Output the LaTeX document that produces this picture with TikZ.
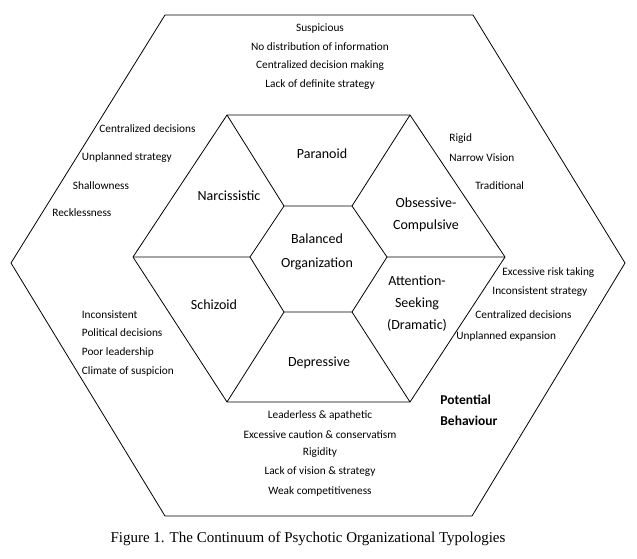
\documentclass[tikz,border=0pt]{standalone}
\usepackage{fontspec}
\setmainfont{Carlito}
\newfontfamily\capfont{Liberation Serif}
\begin{document}
\begin{tikzpicture}[x=1pt,y=-1pt,line width=0.8pt,
  sm/.style={font=\fontsize{11.3}{13}\selectfont,inner sep=0pt},
  smL/.style={sm,anchor=west},
  big/.style={font=\fontsize{14}{17}\selectfont,inner sep=0pt,align=center}]
\useasboundingbox (0,0) rectangle (637,558);
% outer
\coordinate (o1) at (165,15); \coordinate (o2) at (473,15); \coordinate (o3) at (625,263);
\coordinate (o4) at (472,516); \coordinate (o5) at (165,516); \coordinate (o6) at (11,263);
\draw (o1)--(o2)--(o3)--(o4)--(o5)--(o6)--cycle;
% inner
\coordinate (i1) at (227,115); \coordinate (i2) at (410,115); \coordinate (i3) at (505,257);
\coordinate (i4) at (410,402); \coordinate (i5) at (227,402); \coordinate (i6) at (133,257);
\draw (i1)--(i2)--(i3)--(i4)--(i5)--(i6)--cycle;
% center
\coordinate (c1) at (284,206); \coordinate (c2) at (352,206); \coordinate (c3) at (387,257);
\coordinate (c4) at (352,312); \coordinate (c5) at (284,312); \coordinate (c6) at (250,257);
\draw (c1)--(c2)--(c3)--(c4)--(c5)--(c6)--cycle;
\draw (i1)--(c1) (i2)--(c2) (i3)--(c3) (i4)--(c4) (i5)--(c5) (i6)--(c6);
% labels
\node[big] (par) at (322,154) {Paranoid};
\node[big] (nar) at (229,196) {Narcissistic};
\node[big] (bal) at (317,252) {Balanced\\[7pt]Organization};
\node[big] (obs) at (426,215) {Obsessive-\\[5pt]Compulsive};
\node[big] (att) at (417,304) {Attention-\\[5pt]Seeking\\[5pt](Dramatic)};
\node[big] (sch) at (214,305) {Schizoid};
\node[big] (dep) at (319,363) {Depressive};
% top
\node[sm] (t1) at (320,29) {Suspicious};
\node[sm] (t2) at (320,47) {No distribution of information};
\node[sm] (t3) at (320,66) {Centralized decision making};
\node[sm] (t4) at (320,84.5) {Lack of definite strategy};
% upper left
\node[smL] (l1) at (99,129) {Centralized decisions};
\node[smL] (l2) at (81.5,158) {Unplanned strategy};
\node[smL] (l3) at (72.5,186) {Shallowness};
\node[smL] (l4) at (52,213) {Recklessness};
% upper right
\node[smL] (r1) at (449,139) {Rigid};
\node[smL] (r2) at (449,158) {Narrow Vision};
\node[smL] (r3) at (475,186) {Traditional};
% lower right
\node[smL] (r4) at (502,273) {Excessive risk taking};
\node[smL] (r5) at (492,291.5) {Inconsistent strategy};
\node[smL] (r6) at (475,315) {Centralized decisions};
\node[smL] (r7) at (456,336) {Unplanned expansion};
% lower left
\node[smL] (l5) at (81.5,315) {Inconsistent};
\node[smL] (l6) at (81.5,333) {Political decisions};
\node[smL] (l7) at (81.5,352) {Poor leadership};
\node[smL] (l8) at (81.5,371) {Climate of suspicion};
% bottom
\node[sm] (b1) at (320,415) {Leaderless \& apathetic};
\node[sm] (b2) at (320,435) {Excessive caution \& conservatism};
\node[sm] (b3) at (320,453) {Rigidity};
\node[sm] (b4) at (320,472) {Lack of vision \& strategy};
\node[sm] (b5) at (320,491) {Weak competitiveness};
\node[font=\fontsize{13.5}{16}\selectfont\bfseries,anchor=west,align=left,inner sep=0pt] (pb) at (440,410.5) {Potential\\[5pt]Behaviour};
\node[font=\capfont\fontsize{15}{18}\selectfont,inner sep=0pt] (cap) at (308,539) {Figure 1. The Continuum of Psychotic Organizational Typologies};
\end{tikzpicture}
\end{document}
